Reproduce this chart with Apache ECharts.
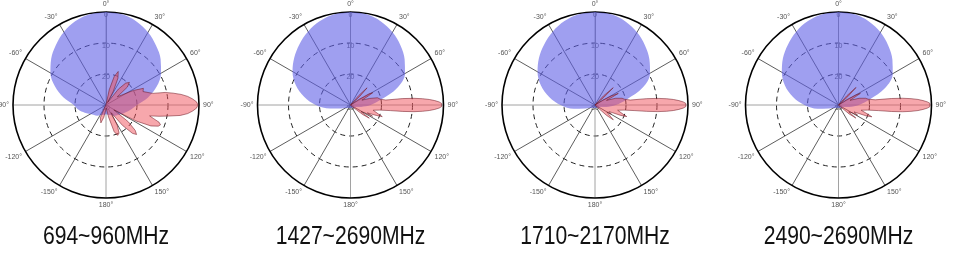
<!DOCTYPE html>
<html><head><meta charset="utf-8">
<script src="https://cdn.jsdelivr.net/npm/echarts@6/dist/echarts.min.js"></script>
<style>html,body{margin:0;padding:0;background:#fff}#c{width:953px;height:261px}</style>
</head><body><div id="c"></div>
<script>
// ---- data ----
const titles = ['694~960MHz', '1427~2690MHz', '1710~2170MHz', '2490~2690MHz'];
const angleTicks = [0, 30, 60, 90, 120, 150, 180, 210, 240, 270, 300, 330];
const angleTickLabels = ['0°', '30°', '60°', '90°', '120°', '150°', '180°', '-150°', '-120°', '-90°', '-60°', '-30°'];
const radiusTicks = [-30, -20, -10, 0];
const radiusTickLabels = ['30', '20', '10', '0'];

// horizontal pattern (blue), dB at blueAngles
const blueAngles = [0,10,20,30,40,50,60,70,80,90,100,110,120,130,140,150,160,170,180,190,200,210,220,230,240,250,260,270,280,290,300,310,320,330,340,350,360];
const blue1 = [0,-0.3,-1.3,-2.9,-4.9,-7.0,-9.5,-12.6,-16.3,-20,-21.8,-23.2,-24.2,-25,-25.5,-26.3,-26.6,-26.8,-27,-26.8,-26.6,-26.3,-25.5,-25,-24.2,-22.7,-21,-19.6,-16.1,-12.5,-9.3,-6.9,-4.8,-2.8,-1.2,-0.3,0];
const blue2 = [0,-0.3,-1.3,-2.9,-4.9,-7.2,-9.7,-14.0,-20.0,-23.5,-26.5,-28,-28.4,-28.6,-28.8,-29,-29,-29,-29,-29,-29,-28.9,-28.7,-28.4,-28,-26.8,-23.3,-18.8,-14.8,-11.2,-8.4,-6.3,-4.4,-2.6,-1.2,-0.3,0];
const blue3 = [0,-0.3,-1.3,-2.9,-4.9,-7.1,-9.5,-13.6,-19.6,-23.3,-26.3,-28,-28.4,-28.6,-28.8,-29,-29,-29,-29,-29,-29,-28.9,-28.7,-28.4,-28,-26.7,-23.0,-18.9,-15.0,-11.4,-8.6,-6.4,-4.5,-2.7,-1.2,-0.3,0];
const blue4 = [0,-0.3,-1.3,-2.9,-5.0,-7.3,-9.8,-14.0,-19.8,-23.4,-26.4,-28,-28.4,-28.6,-28.8,-29,-29,-29,-29,-29,-29,-28.9,-28.7,-28.4,-28,-26.7,-23.1,-19.0,-15.1,-11.6,-8.9,-6.6,-4.6,-2.7,-1.2,-0.3,0];

// vertical pattern (pink), [angle, dB]
const pink1 = [[0,-30],[8,-30],[12,-25],[16,-20.5],[20,-18.5],[24,-20.5],[28,-25],[33,-29],[38,-23.5],[42,-20.5],[46,-19.5],[50,-21],[54,-25.5],[58,-26],[62,-20],[66,-16.8],[70,-17.3],[73,-16.9],[76,-14.5],[78,-10.5],[80,-8],[82,-5.5],[84,-3.5],[86,-2],[88,-0.8],[90,-0.3],[92,-0.8],[94,-2],[96,-3.5],[98,-5.8],[100,-9.5],[102,-12.5],[104,-15.5],[106,-14],[108,-12],[110,-11.3],[112,-11.8],[115,-14],[118,-19],[122,-27],[127,-21],[131,-17.5],[134,-16.3],[137,-17.5],[141,-21.5],[146,-27],[151,-22.5],[155,-20],[159,-19.5],[163,-21],[168,-26],[175,-29],[190,-26],[196,-24],[200,-23.8],[204,-25.5],[210,-29.5],[230,-30],[360,-30]];
const pink2 = [[0,-30],[38,-30],[41,-26],[44,-22.3],[47,-26],[51,-30],[56,-27],[59,-23],[61,-21.8],[63,-23.5],[67,-26],[71,-23.5],[75,-21],[79,-20.2],[82,-18.5],[83,-13],[84,-9.4],[85,-6.7],[86,-4.5],[87,-2.8],[88,-1.4],[89,-0.6],[90,-0.2],[91,-0.6],[92,-1.4],[93,-2.8],[94,-4.5],[95,-6.7],[96,-9.4],[97,-13],[98,-17],[100,-20.5],[103,-22.5],[106,-22.5],[108,-20.5],[110,-19.1],[112,-21],[115,-24],[117,-22],[119,-25],[122,-26],[125,-22.6],[128,-25],[132,-29],[140,-30],[360,-30]];
const pink3 = [[0,-30],[40,-30],[43,-26],[46.5,-21.9],[49,-26],[53,-30],[58,-27],[61,-24],[63.5,-21.6],[65.5,-24],[68,-26],[72,-23],[76,-21],[79,-20.3],[82,-18.5],[83,-13.2],[84,-9.6],[85,-6.8],[86,-4.6],[87,-2.9],[88,-1.5],[89,-0.7],[90,-0.4],[91,-0.7],[92,-1.5],[93,-2.9],[94,-4.6],[95,-6.8],[96,-9.6],[97,-13.2],[98,-17],[100,-20.5],[103,-22.5],[106,-22.5],[108,-20.5],[110,-19.1],[112,-21],[115,-25],[119,-24],[121,-25.5],[125,-26],[129,-22.4],[132,-25],[136,-29.5],[145,-30],[360,-30]];
const pink4 = [[0,-30],[38,-30],[42,-26],[45,-22],[48,-26],[52,-30],[57,-27],[60,-23.5],[62,-22],[64,-24],[68,-26],[72,-23],[76,-21],[79,-20.2],[82,-18],[83,-12.8],[84,-9.2],[85,-6.5],[86,-4.3],[87,-2.7],[88,-1.3],[89,-0.5],[90,-0.1],[91,-0.5],[92,-1.3],[93,-2.7],[94,-4.3],[95,-6.5],[96,-9.2],[97,-12.8],[98,-17],[100,-20.5],[103,-22.5],[106,-22],[107.5,-20],[109.5,-18.6],[111.5,-20.5],[114,-24.5],[118,-23],[120,-25],[124,-26],[127,-23],[130,-25.5],[134,-29.5],[145,-30],[360,-30]];

const blues = [blue1, blue2, blue3, blue4];
const pinks = [pink1, pink2, pink3, pink4];

// ---- layout ----
const centers = [[106, 105], [350.5, 105], [595, 105], [838.5, 105]];
const R = 93;

const chart = echarts.init(document.getElementById('c'), null, {renderer: 'canvas'});
const option = {
  animation: false,
  backgroundColor: '#fff',
  graphic: titles.map((t, i) => ({
    type: 'text', x: centers[i][0], y: 237, scaleX: 0.845, silent: true,
    style: {
      text: t, align: 'center', verticalAlign: 'middle', textAlign: 'center', textVerticalAlign: 'middle',
      font: '25px "Liberation Sans", Arial, sans-serif', fill: '#111'
    }
  })),
  polar: centers.map(c => ({center: c, radius: R})),
  angleAxis: centers.map((c, i) => ({
    polarIndex: i, type: 'value', min: 0, max: 360, interval: 30,
    startAngle: 90, clockwise: true,
    axisLine: {show: true, lineStyle: {color: '#000', width: 1.6}},
    axisTick: {show: false},
    axisLabel: {
      fontSize: 7, color: '#555', margin: 4, fontFamily: 'Arial, sans-serif',
      formatter: v => { const k = angleTicks.indexOf(v); return k < 0 ? '' : angleTickLabels[k]; }
    },
    splitLine: {show: true, lineStyle: {color: ['#8a8a8a', '#333', '#333'], width: 0.8}}
  })),
  radiusAxis: centers.map((c, i) => ({
    polarIndex: i, type: 'value', min: -30, max: 0, interval: 10,
    axisLine: {show: true, lineStyle: {color: '#8a8a8a', width: 1}},
    axisTick: {show: false},
    axisLabel: {
      fontSize: 7, color: '#555', margin: 0, align: 'center', verticalAlign: 'top', fontFamily: 'Arial, sans-serif',
      formatter: v => { const k = radiusTicks.indexOf(v); return k < 0 ? '' : radiusTickLabels[k]; }
    },
    splitLine: {show: true, lineStyle: {type: [5, 4], color: ['rgba(0,0,0,0)', '#222', '#222', 'rgba(0,0,0,0)'], width: 1}}
  })),
  series: [].concat(
    blues.map((b, i) => ({
      type: 'line', coordinateSystem: 'polar', polarIndex: i, silent: true,
      symbol: 'none', smooth: 0.35,
      data: blueAngles.map((a, k) => [b[k], a]),
      lineStyle: {width: 0, opacity: 0},
      areaStyle: {color: 'rgba(95,95,230,0.6)', opacity: 1, origin: 'start'},
      z: 2
    })),
    pinks.map((p, i) => ({
      type: 'line', coordinateSystem: 'polar', polarIndex: i, silent: true,
      symbol: 'none', smooth: false,
      data: p.map(d => [d[1], d[0]]),
      lineStyle: {width: 0.7, color: 'rgba(110,20,30,0.75)'},
      areaStyle: {color: 'rgba(240,80,90,0.5)', opacity: 1, origin: 'start'},
      z: 3
    }))
  )
};
chart.setOption(option);
</script></body></html>
